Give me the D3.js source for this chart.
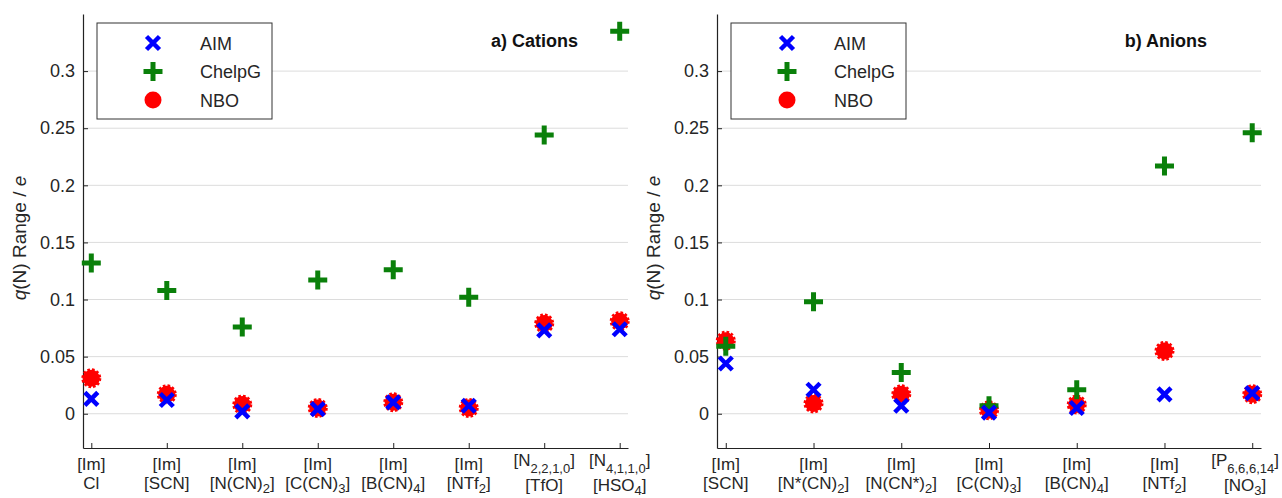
<!DOCTYPE html>
<html>
<head>
<meta charset="utf-8">
<script src="https://cdn.jsdelivr.net/npm/d3@7"></script>
<style>
  body { margin: 0; background: #fff; }
  svg { font-family: "Liberation Sans", Arial, sans-serif; }
</style>
</head>
<body>
<div id="chart"></div>
<script>
// category labels: [line1 parts, line2 parts]; each part is [text, isSub]
var cationLabels = [
  [[["[Im]"]], [["Cl"]]],
  [[["[Im]"]], [["[SCN]"]]],
  [[["[Im]"]], [["[N(CN)"], ["2", 1], ["]"]]],
  [[["[Im]"]], [["[C(CN)"], ["3", 1], ["]"]]],
  [[["[Im]"]], [["[B(CN)"], ["4", 1], ["]"]]],
  [[["[Im]"]], [["[NTf"], ["2", 1], ["]"]]],
  [[["[N"], ["2,2,1,0", 1], ["]"]], [["[TfO]"]]],
  [[["[N"], ["4,1,1,0", 1], ["]"]], [["[HSO"], ["4", 1], ["]"]]]
];
var anionLabels = [
  [[["[Im]"]], [["[SCN]"]]],
  [[["[Im]"]], [["[N*(CN)"], ["2", 1], ["]"]]],
  [[["[Im]"]], [["[N(CN*)"], ["2", 1], ["]"]]],
  [[["[Im]"]], [["[C(CN)"], ["3", 1], ["]"]]],
  [[["[Im]"]], [["[B(CN)"], ["4", 1], ["]"]]],
  [[["[Im]"]], [["[NTf"], ["2", 1], ["]"]]],
  [[["[P"], ["6,6,6,14", 1], ["]"]], [["[NO"], ["3", 1], ["]"]]]
];

var cationAIM    = [0.013, 0.012, 0.002, 0.004, 0.010, 0.007, 0.073, 0.074];
var cationChelpG = [0.132, 0.108, 0.076, 0.117, 0.126, 0.102, 0.244, 0.335];
var cationNBO    = [0.031, 0.017, 0.008, 0.005, 0.010, 0.005, 0.079, 0.081];

var anionAIM    = [0.044, 0.021, 0.007, 0.001, 0.005, 0.017, 0.018];
var anionChelpG = [0.059, 0.098, 0.036, 0.007, 0.021, 0.217, 0.246];
var anionNBO    = [0.064, 0.009, 0.017, 0.003, 0.008, 0.055, 0.017];

var yTicks = [0, 0.05, 0.1, 0.15, 0.2, 0.25, 0.3];
var seriesNames = ["AIM", "ChelpG", "NBO"];

var blue = "#0000ff", green = "#0a800a", red = "#ff0000", textCol = "#262626";
var fs = 18;

var svg = d3.select("#chart").append("svg")
  .attr("width", 1282).attr("height", 498);

function marker(g, type, x, y) {
  if (type === "AIM") {
    var s = 6.5;
    g.append("path")
      .attr("d", "M" + (x - s) + "," + (y - s) + "L" + (x + s) + "," + (y + s) +
                 "M" + (x - s) + "," + (y + s) + "L" + (x + s) + "," + (y - s))
      .attr("stroke", blue).attr("stroke-width", 4.5).attr("fill", "none");
  } else if (type === "ChelpG") {
    var p = 9.5;
    g.append("path")
      .attr("d", "M" + (x - p) + "," + y + "L" + (x + p) + "," + y +
                 "M" + x + "," + (y - p) + "L" + x + "," + (y + p))
      .attr("stroke", green).attr("stroke-width", 5).attr("fill", "none");
  } else {
    g.append("circle").attr("cx", x).attr("cy", y).attr("r", 8.5)
      .attr("fill", red).attr("stroke", red)
      .attr("stroke-width", 3).attr("stroke-dasharray", "2.5,2");
  }
}

function drawPanel(o) {
  var x = d3.scaleLinear().domain([-o.pad, o.labels.length - 1 + o.pad]).range([o.left, o.right]);
  var y = d3.scaleLinear().domain([-0.03, 0.35]).range([448, 14]);
  var g = svg.append("g");

  // grid
  g.selectAll(".grid").data(yTicks).enter().append("line")
    .attr("x1", o.left).attr("x2", o.right)
    .attr("y1", function(d) { return y(d); }).attr("y2", function(d) { return y(d); })
    .attr("stroke", "#dcdcdc").attr("stroke-width", 1);

  // y axis
  var ya = g.append("g").attr("transform", "translate(" + o.left + ",0)")
    .call(d3.axisLeft(y).tickValues(yTicks).tickSize(-5).tickSizeOuter(0).tickPadding(8)
      .tickFormat(function(d) { return d === 0 ? "0" : String(+d.toFixed(2)); }));
  ya.selectAll("text").attr("font-size", fs).attr("fill", textCol).attr("font-family", "Liberation Sans, Arial, sans-serif");
  ya.selectAll("line").attr("stroke", "#222");
  ya.select(".domain").attr("stroke", "#222").attr("stroke-width", 1.2);

  // x axis
  var idx = d3.range(o.labels.length);
  var xa = g.append("g").attr("transform", "translate(0,448)")
    .call(d3.axisBottom(x).tickValues(idx).tickSize(-5).tickSizeOuter(0).tickFormat(""));
  xa.selectAll("line").attr("stroke", "#222");
  xa.select(".domain").attr("stroke", "#222").attr("stroke-width", 1.2);

  // category labels
  idx.forEach(function(i) {
    var lab = o.labels[i];
    var firstHasSub = lab[0].some(function(p) { return p[1]; });
    var texts = [];
    lab.forEach(function(line, li) {
      var base = li === 0 ? (firstHasSub ? 466 : 470) : (firstHasSub ? 491 : 489);
      var t = g.append("text").attr("x", x(i)).attr("y", base)
        .attr("text-anchor", "middle").attr("font-size", 17).attr("fill", textCol);
      var sub = false;
      var drop = li === 0 ? 7 : 4;
      line.forEach(function(p) {
        var ts = t.append("tspan").text(p[0]);
        if (p[1]) { ts.attr("dy", drop).attr("font-size", 13); sub = true; }
        else if (sub) { ts.attr("dy", -drop); sub = false; }
      });
      texts.push(t);
    });
    // keep the label group inside the picture
    var w = d3.max(texts, function(t) { return t.node().getComputedTextLength(); });
    var over = x(i) + w / 2 - 1279;
    if (over > 0) texts.forEach(function(t) { t.attr("x", x(i) - over); });
  });

  // y title
  var yt = g.append("text")
    .attr("transform", "translate(" + o.titleX + ",238) rotate(-90)")
    .attr("text-anchor", "middle").attr("font-size", 19).attr("fill", textCol);
  yt.append("tspan").attr("font-style", "italic").text("q");
  yt.append("tspan").text("(N) Range / ");
  yt.append("tspan").attr("font-style", "italic").text("e");

  // panel title
  g.append("text").attr("x", o.titlePos).attr("y", 47).attr("text-anchor", "end")
    .attr("font-size", fs).attr("font-weight", "bold").attr("fill", "#111").text(o.title);

  // markers: NBO underneath, then ChelpG, AIM on top
  var m = g.append("g");
  o.nbo.forEach(function(v, i) { marker(m, "NBO", x(i), y(v)); });
  o.chelpg.forEach(function(v, i) { marker(m, "ChelpG", x(i), y(v)); });
  o.aim.forEach(function(v, i) { marker(m, "AIM", x(i), y(v)); });

  // legend
  var lg = g.append("g").attr("transform", "translate(" + o.legX + ",23)");
  lg.append("rect").attr("width", 175).attr("height", 96)
    .attr("fill", "#fff").attr("stroke", "#333").attr("stroke-width", 1);
  seriesNames.forEach(function(name, k) {
    var cy = 20 + k * 28.5;
    if (name === "NBO") {
      lg.append("circle").attr("cx", 56).attr("cy", cy).attr("r", 8.5).attr("fill", red);
    } else {
      marker(lg, name, 56, cy);
    }
    lg.append("text").attr("x", 103).attr("y", cy + 6.5).attr("font-size", fs)
      .attr("fill", textCol).text(name);
  });
}

drawPanel({
  labels: cationLabels, aim: cationAIM, chelpg: cationChelpG, nbo: cationNBO,
  left: 83, right: 628, pad: 0.11, titleX: 26, title: "a) Cations", titlePos: 578, legX: 97
});
drawPanel({
  labels: anionLabels, aim: anionAIM, chelpg: anionChelpG, nbo: anionNBO,
  left: 717, right: 1261, pad: 0.1, titleX: 660, title: "b) Anions", titlePos: 1207, legX: 731
});
</script>
</body>
</html>
